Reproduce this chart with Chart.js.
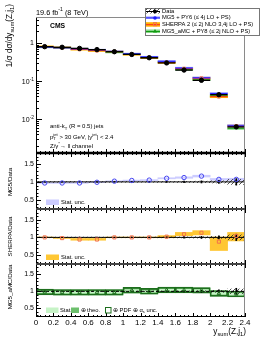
<!DOCTYPE html>
<html>
<head>
<meta charset="utf-8">
<script src="https://cdn.jsdelivr.net/npm/chart.js@4.4.1/dist/chart.umd.min.js"></script>
<style>
  html, body { margin: 0; padding: 0; background: #fff; }
  #wrap { position: relative; width: 266px; height: 344px; overflow: hidden; }
  #wrap canvas { position: absolute; left: 0; top: 0; }
</style>
</head>
<body>
<div id="wrap">
  <canvas id="c1" width="266" height="344"></canvas>
  <canvas id="c2" width="266" height="344"></canvas>
  <canvas id="c3" width="266" height="344"></canvas>
  <canvas id="c4" width="266" height="344"></canvas>
</div>
<script>
// ---- data ----
const binEdges = [0, 0.2, 0.4, 0.6, 0.8, 1.0, 1.2, 1.4, 1.6, 1.8, 2.0, 2.2, 2.4];
const binCenters = [0.1, 0.3, 0.5, 0.7, 0.9, 1.1, 1.3, 1.5, 1.7, 1.9, 2.1, 2.3];
const xTickValues = [0, 0.2, 0.4, 0.6, 0.8, 1.0, 1.2, 1.4, 1.6, 1.8, 2.0, 2.2, 2.4];
const xTickLabels = ["0", "0.2", "0.4", "0.6", "0.8", "1", "1.2", "1.4", "1.6", "1.8", "2", "2.2", "2.4"];
const logTickValues = [0.01, 0.1, 1];
const ratioTickValues = [0.5, 1, 1.5];

// 1/sigma dsigma/dy_sum
const dataXsec   = [0.80, 0.77, 0.72, 0.67, 0.59, 0.50, 0.41, 0.30, 0.195, 0.105, 0.044, 0.0063];
const mg5Xsec    = [0.78, 0.75, 0.70, 0.66, 0.60, 0.52, 0.43, 0.33, 0.22, 0.122, 0.047, 0.0067];
const sherpaXsec = [0.80, 0.755, 0.68, 0.63, 0.59, 0.50, 0.41, 0.306, 0.212, 0.119, 0.039, 0.0066];
const amcXsec    = [0.78, 0.75, 0.70, 0.65, 0.57, 0.51, 0.41, 0.31, 0.20, 0.108, 0.041, 0.0058];
const mg5XsecUnc    = [0.04, 0.04, 0.04, 0.04, 0.04, 0.04, 0.04, 0.05, 0.05, 0.05, 0.06, 0.07];
const sherpaXsecUnc = [0.05, 0.05, 0.05, 0.05, 0.05, 0.05, 0.05, 0.05, 0.05, 0.06, 0.06, 0.07];
const amcXsecUnc    = [0.04, 0.04, 0.04, 0.04, 0.04, 0.04, 0.04, 0.04, 0.04, 0.05, 0.06, 0.07];

// data uncertainties relative to 1
const dataStatRel = [0.008, 0.008, 0.008, 0.008, 0.008, 0.01, 0.012, 0.015, 0.02, 0.03, 0.045, 0.09];
const dataSystRel = [0.01, 0.01, 0.01, 0.01, 0.01, 0.01, 0.01, 0.012, 0.015, 0.02, 0.03, 0.07];

// MG5 / Data
const mg5Ratio   = [0.97, 0.97, 0.97, 0.99, 1.02, 1.04, 1.05, 1.10, 1.12, 1.16, 1.07, 1.07];
const mg5StatUnc = [0.01, 0.01, 0.01, 0.01, 0.01, 0.01, 0.012, 0.015, 0.02, 0.025, 0.025, 0.03];

// SHERPA / Data
const sherpaRatio  = [1.00, 0.98, 0.94, 0.94, 1.00, 1.00, 1.00, 1.02, 1.09, 1.13, 0.88, 1.04];
const sherpaBandLo = [0.99, 0.97, 0.92, 0.92, 0.99, 0.99, 0.99, 0.99, 1.05, 1.07, 0.63, 0.90];
const sherpaBandHi = [1.01, 0.99, 0.97, 0.97, 1.01, 1.01, 1.01, 1.05, 1.14, 1.19, 1.01, 1.14];

// MG5_aMC / Data
const amcRatio   = [0.98, 0.97, 0.97, 0.97, 0.97, 1.03, 1.00, 1.04, 1.04, 1.03, 0.94, 0.92];
const amcStatUnc = [0.02, 0.02, 0.02, 0.02, 0.02, 0.02, 0.02, 0.02, 0.02, 0.02, 0.025, 0.03];
const amcTheoUnc = [0.075, 0.075, 0.075, 0.075, 0.075, 0.075, 0.075, 0.075, 0.075, 0.07, 0.075, 0.075];
const amcPdfUnc  = [0.085, 0.085, 0.085, 0.085, 0.085, 0.085, 0.085, 0.085, 0.085, 0.08, 0.085, 0.085];

const legendLabels = ["Data", "MG5 + PY6 (\u2264 4j LO + PS)", "SHERPA 2 (\u2264 2j NLO 3,4j LO + PS)", "MG5_aMC + PY8 (\u2264 2j NLO + PS)"];

// ---- layout ----
const W = 266, H = 344, PLOT_L = 36, PLOT_R = 245;
const FAM = '"Liberation Sans", Arial, Helvetica, sans-serif';
const font = (sz, bold) => (bold ? "bold " : "") + sz + "px " + FAM;

const C_MG5 = "#1c1cff", C_MG5_BAND = "#8c8cff", C_MG5_RBAND = "#ccccff", C_MG5_MK = "#4646f0";
const C_SH = "#ff2a1a", C_SH_BAND = "#ffb300", C_SH_RBAND = "#ffc734", C_SH_MK = "#f2704c";
const C_AMC = "#109a10", C_AMC_BAND = "#86d686", C_AMC_PDF = "#1d6e1d", C_AMC_THEO = "#6cbf6c", C_AMC_STAT = "#c6f3c6";

function hatchPattern() {
  const c = document.createElement("canvas");
  c.width = 4; c.height = 4;
  const g = c.getContext("2d");
  g.strokeStyle = "#222"; g.lineWidth = 0.8;
  g.beginPath();
  g.moveTo(0, 4); g.lineTo(4, 0);
  g.moveTo(-1, 1); g.lineTo(1, -1);
  g.moveTo(3, 5); g.lineTo(5, 3);
  g.stroke();
  return g.createPattern(c, "repeat");
}
const HATCH = hatchPattern();

// text with sub/superscripts
function richWidth(ctx, parts, sz) {
  let w = 0;
  parts.forEach(p => {
    if (typeof p === "string") { ctx.font = font(sz); w += ctx.measureText(p).width; }
    else {
      ctx.font = font(sz * 0.7);
      w += Math.max(p.sub ? ctx.measureText(p.sub).width : 0, p.sup ? ctx.measureText(p.sup).width : 0);
    }
  });
  return w;
}
function drawRich(ctx, parts, x, y, sz, align) {
  const w = richWidth(ctx, parts, sz);
  if (align === "right") x -= w; else if (align === "center") x -= w / 2;
  ctx.textAlign = "left"; ctx.textBaseline = "middle";
  parts.forEach(p => {
    if (typeof p === "string") {
      ctx.font = font(sz); ctx.fillText(p, x, y); x += ctx.measureText(p).width;
    } else {
      ctx.font = font(sz * 0.7);
      let adv = 0;
      if (p.sup) { ctx.fillText(p.sup, x, y - sz * 0.4); adv = Math.max(adv, ctx.measureText(p.sup).width); }
      if (p.sub) { ctx.fillText(p.sub, x, y + sz * 0.33); adv = Math.max(adv, ctx.measureText(p.sub).width); }
      x += adv;
    }
  });
}

// dataset helpers
const segs = vals => vals.flatMap((v, i) => [{x: binEdges[i], y: v}, {x: binEdges[i + 1], y: v}, {x: binEdges[i + 1], y: null}]);
const pts = vals => vals.map((v, i) => ({x: binCenters[i], y: v}));
const relBand = (vals, unc) => vals.map((v, i) => ({x: binCenters[i], y: [v * (1 - unc[i]), v * (1 + unc[i])]}));
const absBand = (vals, unc) => vals.map((v, i) => ({x: binCenters[i], y: [v - unc[i], v + unc[i]]}));
const loHi = (lo, hi) => lo.map((l, i) => ({x: binCenters[i], y: [l, hi[i]]}));

function barDs(data, color, extra) {
  return Object.assign({type: "bar", data, backgroundColor: color, borderWidth: 0, borderSkipped: false,
    barPercentage: 1, categoryPercentage: 1, grouped: false}, extra || {});
}
function lineDs(data, color, width, extra) {
  return Object.assign({type: "line", data, borderColor: color, borderWidth: width, pointRadius: 0,
    spanGaps: false, fill: false, tension: 0}, extra || {});
}
function markDs(data, style, color, fill, r) {
  return {type: "line", data, showLine: false, pointStyle: style, pointRadius: r,
    pointBorderColor: color, pointBackgroundColor: fill, pointBorderWidth: 1};
}
function ordered(list) { return list.map((d, i) => Object.assign(d, {order: list.length - i})); }

// frame + ROOT style ticks
function framePlugin(kind, lines) {
  return {
    id: "frame" + kind,
    afterDraw(chart) {
      const {ctx, chartArea: a, scales: {x, y}} = chart;
      ctx.save();
      // x ticks bottom (up) and top (down)
      ctx.strokeStyle = "#000"; ctx.lineWidth = 1;
      ctx.beginPath();
      for (let i = 0; i <= 48; i++) {
        const px = Math.round(x.getPixelForValue(i * 0.05)) + 0.5;
        const len = i % 4 === 0 ? 4 : 2;
        ctx.moveTo(px, a.bottom); ctx.lineTo(px, a.bottom - len);
        if (kind !== "top") { ctx.moveTo(px, a.top); ctx.lineTo(px, a.top + len); }
      }
      // y ticks on the left
      if (kind === "top") {
        for (let d = -3; d <= 0; d++) {
          for (let m = 1; m <= 9; m++) {
            const v = m * Math.pow(10, d);
            if (v < y.min || v > y.max) continue;
            const py = Math.round(y.getPixelForValue(v)) + 0.5;
            ctx.moveTo(a.left, py); ctx.lineTo(a.left + (m === 1 ? 6 : 3), py);
          }
        }
      } else {
        for (let i = 3; i <= 17; i++) {
          const py = Math.round(y.getPixelForValue(i / 10)) + 0.5;
          ctx.moveTo(a.left, py); ctx.lineTo(a.left + (i % 5 === 0 ? 5 : 2.5), py);
        }
      }
      ctx.stroke();
      // frame
      ctx.strokeStyle = "#000"; ctx.lineWidth = 1;
      ctx.beginPath(); ctx.moveTo(a.left + 0.5, a.top); ctx.lineTo(a.left + 0.5, a.bottom); ctx.stroke();
      ctx.strokeStyle = "#8a8a8a";
      ctx.beginPath(); ctx.moveTo(a.right - 0.5, a.top); ctx.lineTo(a.right - 0.5, a.bottom); ctx.stroke();
      ctx.strokeStyle = lines.topColor; ctx.lineWidth = lines.topWidth;
      ctx.beginPath(); ctx.moveTo(a.left, a.top + 0.5); ctx.lineTo(a.right, a.top + 0.5); ctx.stroke();
      ctx.strokeStyle = lines.botColor; ctx.lineWidth = lines.botWidth;
      ctx.beginPath(); ctx.moveTo(a.left, a.bottom - 0.5); ctx.lineTo(a.right, a.bottom - 0.5); ctx.stroke();
      ctx.restore();
    }
  };
}

function options(top, bottom, yScale, withX) {
  const xh = withX ? 27 : 0;
  return {
    responsive: false, animation: false, devicePixelRatio: 1,
    layout: {padding: {left: 0, right: W - PLOT_R, top: top, bottom: H - bottom - xh}},
    plugins: {legend: {display: false}, tooltip: {enabled: false}},
    scales: {
      x: {
        type: "linear", min: 0, max: 2.4, offset: false,
        grid: {display: false, drawTicks: false}, border: {display: false},
        afterBuildTicks: s => { s.ticks = xTickValues.map(v => ({value: v})); },
        afterFit: s => { s.height = xh; },
        ticks: {display: withX, autoSkip: false, maxRotation: 0, padding: 1, color: "#000",
          font: {size: 8, family: FAM}, callback: (v, i) => xTickLabels[i]}
      },
      y: Object.assign({
        grid: {display: false, drawTicks: false}, border: {display: false},
        afterFit: s => { s.width = PLOT_L; }
      }, yScale)
    }
  };
}

const ratioY = {
  type: "linear", min: 0.25, max: 1.8,
  afterBuildTicks: s => { s.ticks = ratioTickValues.map(v => ({value: v})); },
  ticks: {color: "#000", padding: 2, font: {size: 7, family: FAM}, callback: v => String(v)}
};

function ratioTitle(text, cy) {
  return {
    id: "rt" + text,
    afterDraw(chart) {
      const ctx = chart.ctx;
      ctx.save(); ctx.translate(10, cy); ctx.rotate(-Math.PI / 2);
      ctx.fillStyle = "#000"; drawRich(ctx, [text], 0, 0, 6.2, "center");
      ctx.restore();
    }
  };
}

function unitLine(dashed) {
  return lineDs([{x: 0, y: 1}, {x: 2.4, y: 1}], "#000", 1, dashed ? {borderDash: [3, 2]} : {});
}
function dataErr() {
  return barDs(absBand(dataStatRel.map(() => 1), dataStatRel), "#000", {barThickness: 1});
}
function dataHatch() {
  return barDs(absBand(dataSystRel.map(() => 1), dataSystRel), HATCH);
}

// ---------- panel 1: cross section ----------
const topAnnot = {
  id: "topAnnot",
  afterDraw(chart) {
    const {ctx, scales: {y}} = chart;
    ctx.save(); ctx.fillStyle = "#000";
    // log labels
    drawRich(ctx, ["1"], 34, y.getPixelForValue(1), 7, "right");
    drawRich(ctx, ["10", {sup: "-1"}], 34, y.getPixelForValue(0.1) + 1, 7, "right");
    drawRich(ctx, ["10", {sup: "-2"}], 34, y.getPixelForValue(0.01) + 1, 7, "right");
    // titles
    drawRich(ctx, ["19.6 fb", {sup: "-1"}, " (8 TeV)"], 36, 13, 7.3, "left");
    ctx.font = font(6.8, true); ctx.textAlign = "left"; ctx.textBaseline = "middle";
    ctx.fillText("CMS", 50, 26.5);
    drawRich(ctx, ["anti-k", {sub: "T"}, " (R = 0.5) jets"], 50, 126.5, 6, "left");
    drawRich(ctx, ["p", {sub: "T", sup: "jet"}, " > 30 GeV, |y", {sup: "jet"}, "| < 2.4"], 50, 137, 6, "left");
    drawRich(ctx, ["Z/\u03b3", {sup: "*"}, "\u2192 ll channel"], 50, 146.5, 6, "left");
    // y title
    ctx.save(); ctx.translate(9.5, 4); ctx.rotate(-Math.PI / 2);
    drawRich(ctx, ["1/\u03c3 d\u03c3/dy", {sub: "sum"}, "(Z,j", {sub: "1"}, ")"], 0, 0, 8.2, "right");
    ctx.restore();
    // legend
    const lx = 145, ly = 8, lw = 115, lh = 28;
    ctx.fillStyle = "#fff"; ctx.fillRect(lx, ly, lw, lh);
    ctx.strokeStyle = "#777"; ctx.lineWidth = 1; ctx.strokeRect(lx + 0.5, ly + 0.5, lw - 1, lh - 1);
    const rows = [11, 17.5, 24.2, 31];
    const sx0 = 146, sx1 = 160, sc = 153.5;
    // data
    ctx.fillStyle = HATCH; ctx.fillRect(sx0, rows[0] - 2.5, sx1 - sx0, 5);
    ctx.strokeStyle = "#000"; ctx.beginPath(); ctx.moveTo(sx0, rows[0] + 0.5); ctx.lineTo(sx1, rows[0] + 0.5); ctx.stroke();
    ctx.fillStyle = "#000"; ctx.beginPath(); ctx.arc(sc + 1.5, rows[0] + 0.5, 2, 0, 2 * Math.PI); ctx.fill();
    // MG5
    ctx.fillStyle = C_MG5_BAND; ctx.fillRect(sx0, rows[1] - 1, sx1 - sx0, 2);
    ctx.strokeStyle = C_MG5; ctx.beginPath(); ctx.moveTo(sx0, rows[1] + 0.5); ctx.lineTo(sx1, rows[1] + 0.5); ctx.stroke();
    ctx.fillStyle = C_MG5; ctx.beginPath(); ctx.arc(sc + 1.5, rows[1] + 0.5, 1.8, 0, 2 * Math.PI); ctx.fill();
    // SHERPA
    ctx.fillStyle = C_SH_BAND; ctx.fillRect(sx0, rows[2] - 2, sx1 - sx0, 4.5);
    ctx.strokeStyle = C_SH; ctx.beginPath(); ctx.moveTo(sx0, rows[2] + 0.5); ctx.lineTo(sx1, rows[2] + 0.5); ctx.stroke();
    ctx.strokeStyle = C_SH_MK; ctx.strokeRect(sc, rows[2] - 1.5, 3, 3);
    // aMC
    ctx.fillStyle = C_AMC_BAND; ctx.fillRect(sx0, rows[3] - 1.5, sx1 - sx0, 3.5);
    ctx.strokeStyle = C_AMC; ctx.beginPath(); ctx.moveTo(sx0, rows[3] + 0.5); ctx.lineTo(sx1, rows[3] + 0.5); ctx.stroke();
    ctx.fillStyle = C_AMC; ctx.beginPath(); ctx.moveTo(sc + 1.5, rows[3] - 2); ctx.lineTo(sc + 3.5, rows[3] + 1.5); ctx.lineTo(sc - 0.5, rows[3] + 1.5); ctx.closePath(); ctx.fill();
    ctx.fillStyle = "#000";
    legendLabels.forEach((t, i) => drawRich(ctx, [t], 162, rows[i] + 0.3, 5.8, "left"));
    ctx.restore();
  }
};

new Chart(document.getElementById("c1"), {
  type: "line",
  data: {datasets: ordered([
    barDs(relBand(amcXsec, amcXsecUnc), C_AMC_BAND),
    barDs(relBand(sherpaXsec, sherpaXsecUnc), C_SH_BAND),
    barDs(relBand(mg5Xsec, mg5XsecUnc), C_MG5_BAND),
    lineDs(segs(amcXsec), C_AMC, 1),
    lineDs(segs(sherpaXsec), C_SH, 1),
    lineDs(segs(mg5Xsec), C_MG5, 1),
    lineDs(segs(dataXsec), "#000", 1.3),
    markDs(pts(sherpaXsec), "rect", C_SH_MK, "rgba(0,0,0,0)", 2),
    markDs(pts(dataXsec), "circle", "#000", "#000", 2.2)
  ])},
  options: options(17, 153, {
    type: "logarithmic", min: 0.0013, max: 4.8,
    afterBuildTicks: s => { s.ticks = logTickValues.map(v => ({value: v})); },
    ticks: {display: false}
  }, false),
  plugins: [framePlugin("top", {topColor: "#8a8a8a", topWidth: 1, botColor: "#000", botWidth: 1.6}), topAnnot]
});

// ---------- panel 2: MG5 / Data ----------
const mg5Legend = {
  id: "mg5Legend",
  afterDraw(chart) {
    const ctx = chart.ctx;
    ctx.save();
    ctx.fillStyle = C_MG5_RBAND; ctx.fillRect(46, 199.5, 13, 5.5);
    ctx.fillStyle = "#000"; drawRich(ctx, ["Stat. unc."], 61, 202.3, 5.8, "left");
    ctx.restore();
  }
};
new Chart(document.getElementById("c2"), {
  type: "line",
  data: {datasets: ordered([
    barDs(absBand(mg5Ratio, mg5StatUnc), C_MG5_RBAND),
    dataHatch(),
    unitLine(false),
    dataErr(),
    markDs(pts(mg5Ratio), "circle", C_MG5_MK, "rgba(0,0,0,0)", 2.2)
  ])},
  options: options(153, 209, ratioY, false),
  plugins: [framePlugin("ratio", {topColor: "#000", topWidth: 1.6, botColor: "#444", botWidth: 1}), ratioTitle("MG5/Data", 182), mg5Legend]
});

// ---------- panel 3: SHERPA / Data ----------
const sherpaLegend = {
  id: "sherpaLegend",
  afterDraw(chart) {
    const ctx = chart.ctx;
    ctx.save();
    ctx.fillStyle = C_SH_RBAND; ctx.fillRect(46, 254.5, 13, 5.5);
    ctx.fillStyle = "#000"; drawRich(ctx, ["Stat. unc."], 61, 257.3, 5.8, "left");
    ctx.restore();
  }
};
new Chart(document.getElementById("c3"), {
  type: "line",
  data: {datasets: ordered([
    barDs(loHi(sherpaBandLo, sherpaBandHi), C_SH_RBAND),
    dataHatch(),
    unitLine(false),
    dataErr(),
    markDs(pts(sherpaRatio), "rect", C_SH_MK, "rgba(0,0,0,0)", 2.2)
  ])},
  options: options(209, 264, ratioY, false),
  plugins: [framePlugin("ratio", {topColor: "#444", topWidth: 1, botColor: "#444", botWidth: 1}), ratioTitle("SHERPA/Data", 236.5), sherpaLegend]
});

// ---------- panel 4: MG5_aMC / Data ----------
const amcLegend = {
  id: "amcLegend",
  afterDraw(chart) {
    const ctx = chart.ctx;
    ctx.save();
    ctx.fillStyle = C_AMC_STAT; ctx.fillRect(46, 307.5, 12.5, 5.5);
    ctx.fillStyle = "#000"; drawRich(ctx, ["Stat."], 60, 310.3, 5.8, "left");
    ctx.fillStyle = C_AMC_THEO; ctx.fillRect(71, 307.5, 8, 5.5);
    ctx.fillStyle = "#000"; drawRich(ctx, ["\u2295 theo."], 80.5, 310.3, 5.8, "left");
    ctx.strokeStyle = C_AMC_PDF; ctx.lineWidth = 1; ctx.strokeRect(105.5, 307.5, 5.5, 5.5);
    ctx.fillStyle = "#000"; drawRich(ctx, ["\u2295 PDF \u2295 \u03b1", {sub: "s"}, " unc."], 113, 310.3, 5.8, "left");
    // x title
    drawRich(ctx, ["y", {sub: "sum"}, "(Z,j", {sub: "1"}, ")"], 246, 331.5, 8.2, "right");
    ctx.restore();
  }
};
new Chart(document.getElementById("c4"), {
  type: "line",
  data: {datasets: ordered([
    barDs(absBand(amcRatio, amcTheoUnc), C_AMC_THEO),
    barDs(absBand(amcRatio, amcStatUnc), C_AMC_STAT),
    barDs(absBand(amcRatio, amcPdfUnc), "rgba(0,0,0,0)", {borderColor: C_AMC_PDF, borderWidth: 1}),
    dataHatch(),
    unitLine(true),
    dataErr(),
    markDs(pts(amcRatio), "triangle", C_AMC_PDF, "rgba(0,0,0,0)", 2)
  ])},
  options: options(264, 317, ratioY, true),
  plugins: [framePlugin("ratio", {topColor: "#444", topWidth: 1, botColor: "#000", botWidth: 1.2}), ratioTitle("MG5_aMC/Data", 287), amcLegend]
});
</script>
</body>
</html>
